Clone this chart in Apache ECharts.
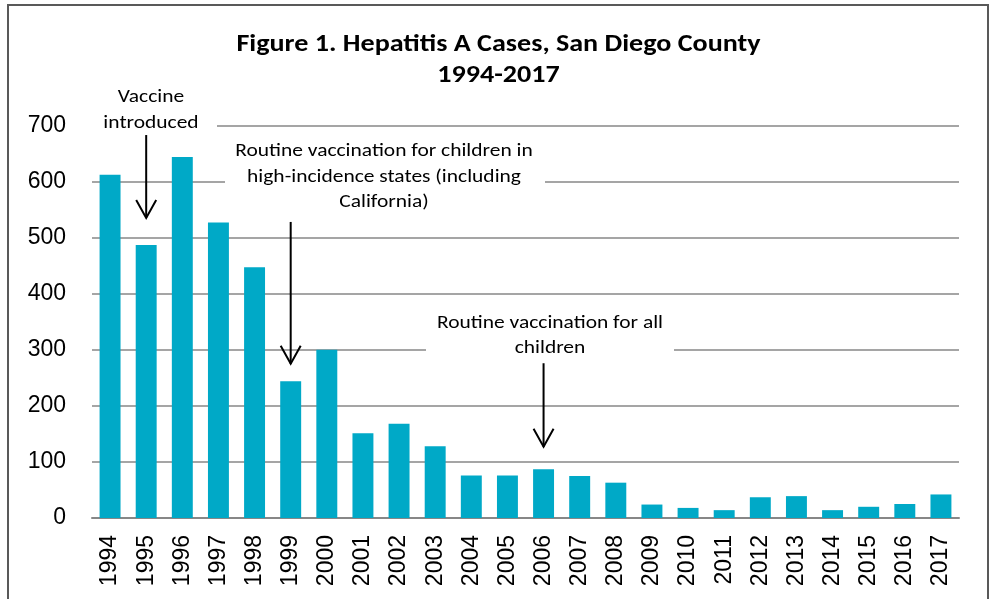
<!DOCTYPE html>
<html><head><meta charset="utf-8">
<script src="https://cdn.jsdelivr.net/npm/echarts@6/dist/echarts.min.js"></script>
<style>html,body{margin:0;padding:0;background:#fff}#c{width:992px;height:599px}</style>
</head><body><div id="c"></div>
<script>
// ---- data ----
const years = ['1994','1995','1996','1997','1998','1999','2000','2001','2002','2003','2004','2005',
               '2006','2007','2008','2009','2010','2011','2012','2013','2014','2015','2016','2017'];
const cases = [612,487,644,527,447,244,300,151,168,128,76,76,87,75,63,24,18,14,37,39,14,20,25,42];
const titleLines = ['Figure 1. Hepatitis A Cases, San Diego County', '1994-2017'];
const noteTexts = ['Vaccine\nintroduced',
                   'Routine vaccination for children in\nhigh-incidence states (including\nCalifornia)',
                   'Routine vaccination for all\nchildren'];
const arrowYears = ['1995','1999','2006'];
const arrowFrom = [683, 528, 276];
const arrowTo = [535, 275, 127];

// ---- layout (pixels) for title and annotation text boxes ----
const titleLayout = {cx:498.5, cy:60.5, lh:31, size:24, sx:1.17};
const noteBoxes = [
  {cx:151, cy:110, lh:26, box:[92, 84, 125, 52]},
  {cx:384, cy:177, lh:25.5, box:[225, 137, 320, 81]},
  {cx:550, cy:335.5, lh:25.5, box:[426, 308, 248, 54]}
];
const noteSize = 19, noteSx = 1.13;

const chart = echarts.init(document.getElementById('c'));
chart.setOption({
  animation:false,
  grid:{left:92, right:33, top:125.5, bottom:81, outerBoundsMode:'none'},
  xAxis:{
    type:'category', data:years,
    axisTick:{show:false},
    axisLine:{lineStyle:{color:'#878787', width:2}},
    axisLabel:{rotate:90, fontSize:23, fontFamily:'"Liberation Sans", Arial, sans-serif', color:'#000', margin:17, interval:0}
  },
  yAxis:{
    type:'value', min:0, max:700, interval:100,
    axisLine:{show:false}, axisTick:{show:false},
    splitLine:{lineStyle:{color:'#878787', width:1.5}},
    axisLabel:{fontSize:23, fontFamily:'"Liberation Sans", Arial, sans-serif', color:'#000', margin:26}
  },
  series:[{type:'bar', data:cases, barWidth:'58%', itemStyle:{color:'#00A9C7'}}]
});

const g = [];
// frame
g.push({type:'rect', z:100, shape:{x:8, y:5, width:980, height:640}, style:{fill:null, stroke:'#595959', lineWidth:2}});
// title
g.push({type:'text', z:101, x:titleLayout.cx, y:titleLayout.cy, scaleX:titleLayout.sx,
  style:{text:titleLines.join('\n'), align:'center', verticalAlign:'middle',
    font:'bold ' + titleLayout.size + 'px Carlito, "Open Sans", sans-serif', lineHeight:titleLayout.lh, fill:'#000'}});
// note boxes + text
noteTexts.forEach((t, i) => {
  const b = noteBoxes[i];
  g.push({type:'rect', z:100, shape:{x:b.box[0], y:b.box[1], width:b.box[2], height:b.box[3]}, style:{fill:'#fff'}});
  g.push({type:'text', z:101, x:b.cx, y:b.cy, scaleX:noteSx, style:{text:t, align:'center', verticalAlign:'middle',
    font:noteSize + 'px Carlito, "Open Sans", sans-serif', lineHeight:b.lh, fill:'#000'}});
});
// arrows
arrowYears.forEach((yr, i) => {
  const a = chart.convertToPixel({gridIndex:0}, [yr, arrowFrom[i]]);
  const b = chart.convertToPixel({gridIndex:0}, [yr, arrowTo[i]]);
  g.push({type:'line', z:102, shape:{x1:a[0], y1:a[1], x2:b[0], y2:b[1]}, style:{stroke:'#000', lineWidth:2}});
  g.push({type:'polyline', z:102, shape:{points:[[b[0]-10, b[1]-18],[b[0], b[1]],[b[0]+10, b[1]-18]]},
    style:{stroke:'#000', lineWidth:2, fill:null}});
});
chart.setOption({graphic:g});
</script></body></html>
